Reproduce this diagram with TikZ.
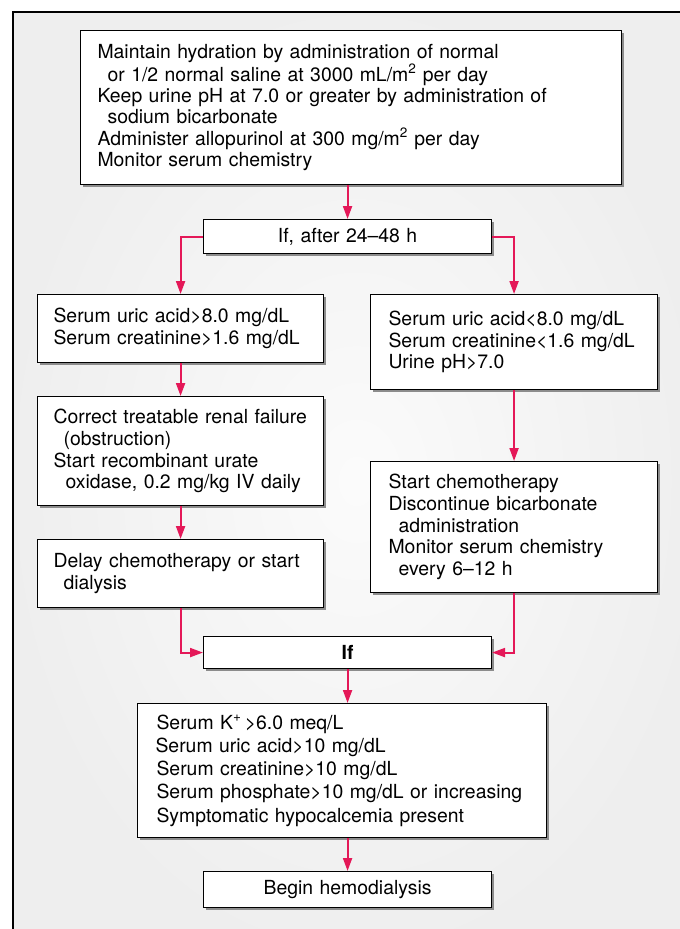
\documentclass[tikz,border=0pt]{standalone}
\usepackage{fontspec}
\setmainfont{TeX Gyre Heros}
\usetikzlibrary{arrows.meta,shadows}

\definecolor{flowred}{RGB}{228,24,88}

\tikzset{
  box/.style={draw, fill=white, line width=1.1pt, anchor=north west, align=left,
    inner xsep=16pt, inner ysep=0pt,
    font=\fontsize{19.4}{21.8}\selectfont,
    drop shadow={shadow xshift=2.5pt, shadow yshift=-2.5pt, fill=black!45, opacity=1}},
  cbox/.style={box, align=center},
  flow/.style={draw=flowred, line width=2pt, -{Triangle[length=13pt,width=9pt]}},
}

\begin{document}
\begin{tikzpicture}[x=1pt,y=-1pt]
\useasboundingbox (0,0) rectangle (680,929);
\begin{scope}
\clip (0,0) rectangle (680,929);
\shade[inner color=gray!3, outer color=gray!13] (13,12) rectangle (700,950);
\draw[line width=1.2pt] (13,950) -- (13,12) -- (700,12);
\end{scope}

\node[box, text width=509pt, minimum height=154pt, font=\fontsize{19.4}{21.3}\selectfont] (hydrate) at (80,30) {%
  \hspace*{1pt}Maintain hydration by administration of normal\\
  \hspace*{11pt}or 1/2 normal saline at 3000 mL/m\textsuperscript{2} per day\\
  \hspace*{1pt}Keep urine pH at 7.0 or greater by administration of\\
  \hspace*{11pt}sodium bicarbonate\\
  \hspace*{1pt}Administer allopurinol at 300 mg/m\textsuperscript{2} per day\\
  \hspace*{1pt}Monitor serum chemistry};
\node[cbox, text width=256pt, minimum height=34pt] (if1) at (203,219) {If, after 24--48 h};

% left branch
\node[box, text width=254pt, minimum height=68pt] (l1) at (37,294) {%
  Serum uric acid>8.0 mg/dL\\
  Serum creatinine>1.6 mg/dL};
\node[box, text width=254pt, minimum height=109pt] (l2) at (37,396) {%
  Correct treatable renal failure\\
  \hspace*{10pt}(obstruction)\\
  Start recombinant urate\\
  \hspace*{12pt}oxidase, 0.2 mg/kg IV daily};
\node[box, text width=254pt, minimum height=68pt] (l3) at (37,539) {%
  Delay chemotherapy or start\\
  \hspace*{10pt}dialysis};

% right branch
\node[box, text width=255pt, minimum height=95pt] (r1) at (370,294) {%
  \hspace*{2pt}Serum uric acid<8.0 mg/dL\\
  \hspace*{2pt}Serum creatinine<1.6 mg/dL\\
  \hspace*{2pt}Urine pH>7.0};
\node[box, text width=255pt, minimum height=131pt] (r2) at (370,461) {%
  \hspace*{2pt}Start chemotherapy\\
  \hspace*{2pt}Discontinue bicarbonate\\
  \hspace*{12pt}administration\\
  \hspace*{2pt}Monitor serum chemistry\\
  \hspace*{12pt}every 6--12 h};

\node[cbox, text width=256pt, minimum height=32pt, font=\fontsize{19.4}{21.8}\selectfont\bfseries] (if2) at (203,636) {If};
\node[box, text width=377pt, minimum height=134pt, font=\fontsize{19.4}{23.3}\selectfont] (crit) at (137,703) {%
  \hspace*{3pt}Serum K\textsuperscript{+}\,>6.0 meq/L\\
  \hspace*{2pt}Serum uric acid>10 mg/dL\\
  \hspace*{3pt}Serum creatinine>10 mg/dL\\
  \hspace*{3pt}Serum phosphate>10 mg/dL or increasing\\
  \hspace*{3pt}Symptomatic hypocalcemia present};
\node[cbox, text width=256pt, minimum height=36pt] (hd) at (203,871) {Begin hemodialysis};

\draw[flow] (hydrate.south -| if1.north) -- (if1.north);
\draw[flow] (if1.west) -| (l1.north);
\draw[flow] (if1.east) -| (r1.north);
\draw[flow] (l1.south) -- (l2.north);
\draw[flow] (l2.south) -- (l3.north);
\draw[flow] (r1.south) -- (r2.north);
\draw[flow] (l3.south) |- (if2.west);
\draw[flow] (r2.south) |- (if2.east);
\draw[flow] (if2.south) -- (if2.south |- crit.north);
\draw[flow] (if2.south |- crit.south) -- (hd.north);
\end{tikzpicture}
\end{document}
